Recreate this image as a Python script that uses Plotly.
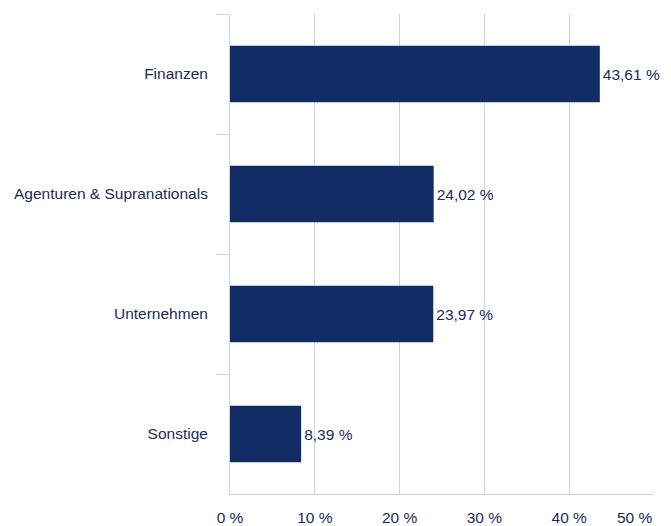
import plotly.graph_objects as go

categories = ["Finanzen", "Agenturen & Supranationals", "Unternehmen", "Sonstige"]
values = [43.61, 24.02, 23.97, 8.39]
x_ticks = [0, 10, 20, 30, 40, 50]
x_tick_labels = ["0 %", "10 %", "20 %", "30 %", "40 %", "50 %"]

labels = [f"{v:.2f}".replace(".", ",") + " %" for v in values]

# the last tick label sits right-aligned against the plot edge (drawn as an annotation)
x_tick_text = x_tick_labels[:-1] + [""]

navy = "#122d65"
text_col = "#1b2b58"
grid_col = "#c9d4e4"
fnt = "Liberation Sans"

fig = go.Figure(go.Bar(
    x=values, y=categories, orientation="h",
    marker=dict(color=navy, line=dict(width=0)),
    text=labels, textposition="outside", cliponaxis=False,
    textfont=dict(color=text_col, size=15.5, family=fnt),
    width=0.47,
))

# page body adds an 8px offset; size the figure to fit the 671x526 window
fig.update_layout(
    width=663, height=518,
    margin=dict(l=222, r=17, t=6, b=32),
    plot_bgcolor="white", paper_bgcolor="white",
    font=dict(family=fnt, size=15, color=text_col),
    showlegend=False,
    separators=",.",
)
fig.add_annotation(
    x=x_ticks[-1], xref="x", y=0, yref="paper",
    text=x_tick_labels[-1], showarrow=False,
    xanchor="right", yanchor="top", yshift=-13, xshift=1,
    font=dict(size=15.5, color=text_col, family=fnt),
)
fig.update_xaxes(
    range=[0, 50], tickvals=x_ticks, ticktext=x_tick_text,
    tickfont=dict(size=15.5),
    showgrid=True, gridcolor=grid_col, gridwidth=1,
    showline=True, linecolor=grid_col, linewidth=1,
    ticks="outside", ticklen=9, tickcolor="rgba(0,0,0,0)",
    zeroline=False, automargin=False,
)
fig.update_yaxes(
    autorange="reversed", showgrid=False,
    tickfont=dict(size=15.5),
    showline=True, linecolor=grid_col, linewidth=1,
    ticks="outside", tickson="boundaries", ticklen=13, tickcolor=grid_col,
    ticklabelstandoff=18, automargin=False,
)

fig.write_html("out.html")
